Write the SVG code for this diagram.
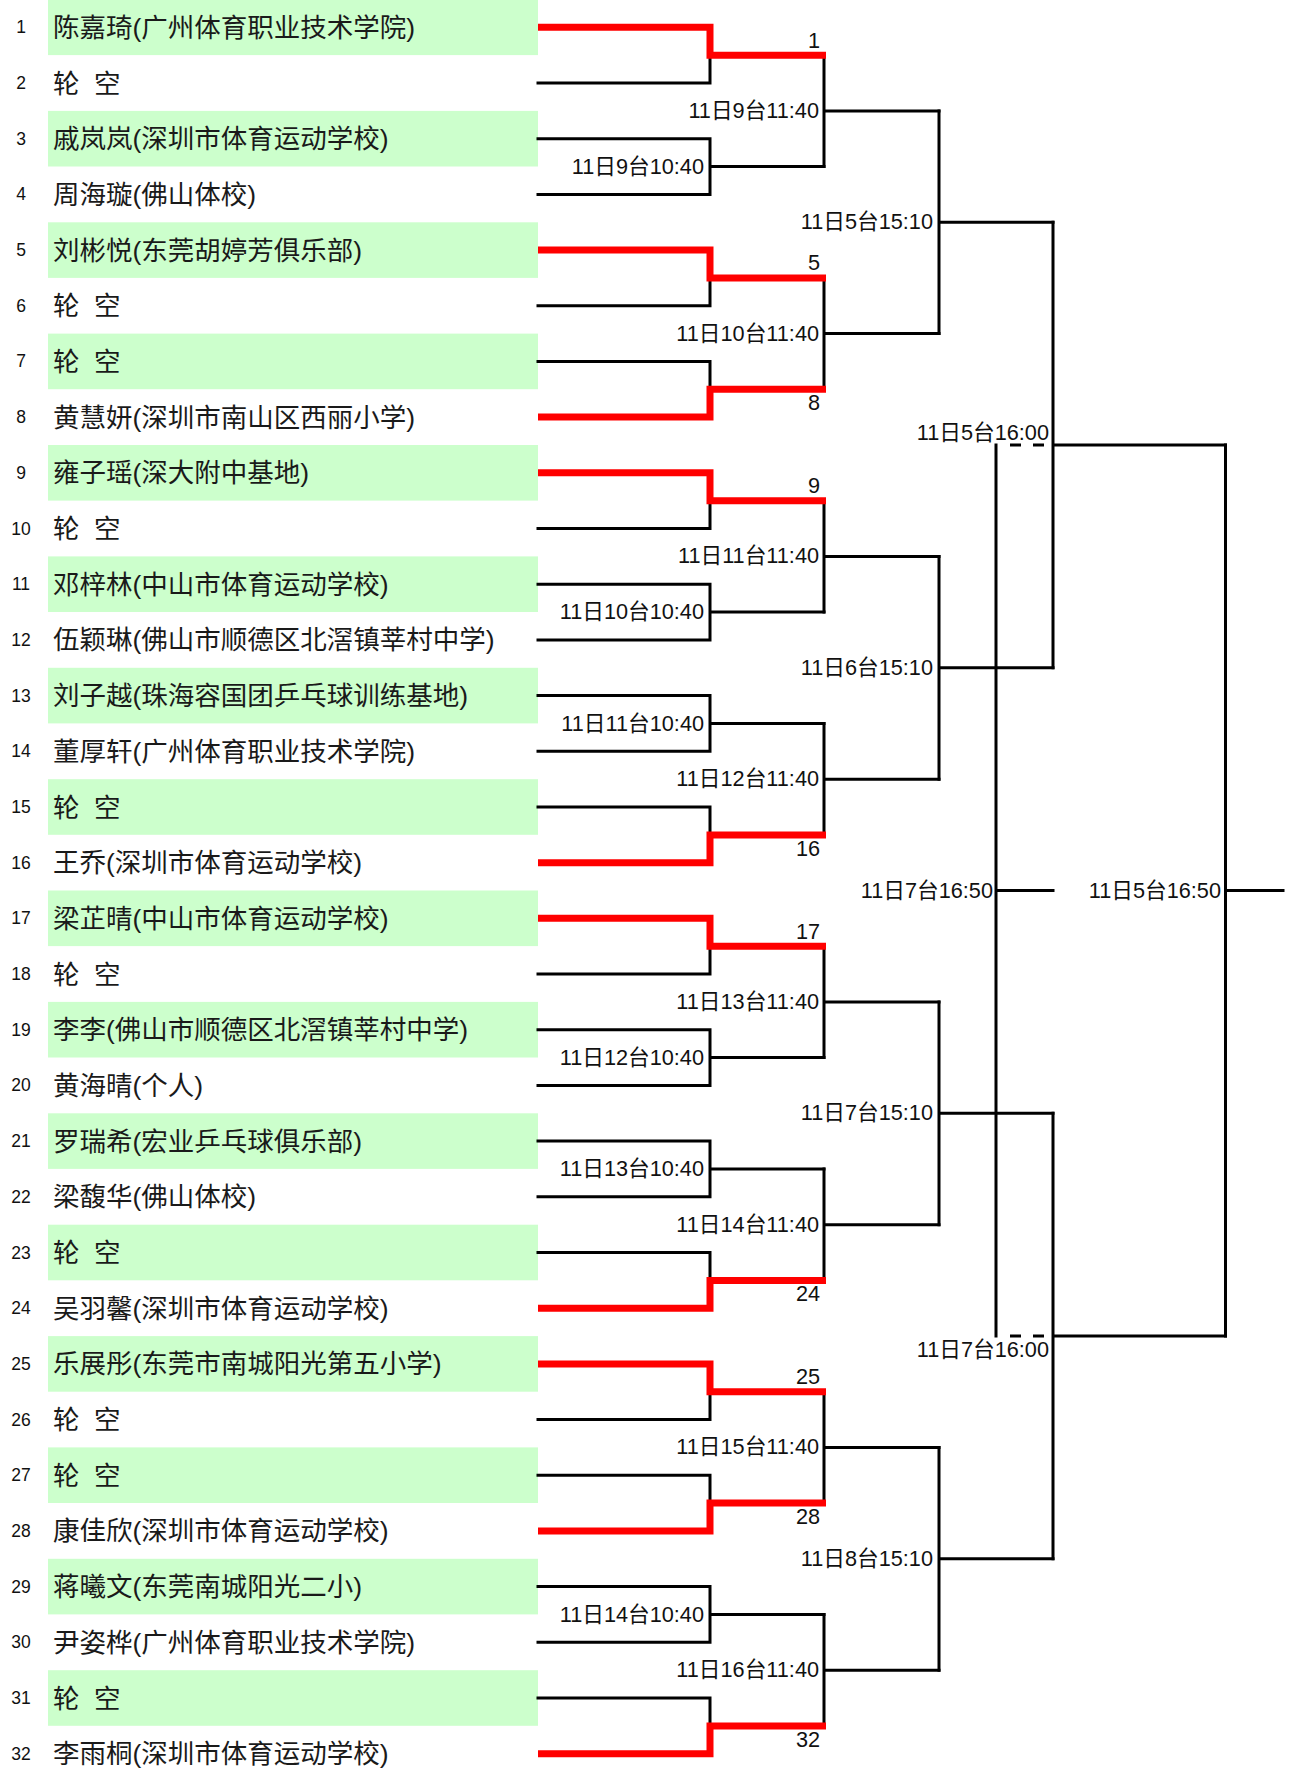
<svg xmlns="http://www.w3.org/2000/svg" width="1290" height="1769" viewBox="0 0 1290 1769">
<style>
.bg{fill:#ffffff}
.g{fill:#ccffcc}
.n{font-family:"Liberation Sans","Noto Sans CJK SC",sans-serif;font-size:17.5px;text-anchor:middle;fill:#111}
.t{font-family:"Liberation Sans","Noto Sans CJK SC",sans-serif;font-size:26.5px;fill:#1a1a1a}
.l{font-family:"Liberation Sans","Noto Sans CJK SC",sans-serif;font-size:21.7px;text-anchor:end;fill:#111}
.k{fill:none;stroke:#000;stroke-width:3;stroke-linecap:square}
.r{fill:none;stroke:#ff0000;stroke-width:7;stroke-linecap:butt}
.d{fill:none;stroke:#000;stroke-width:3;stroke-dasharray:11 12;stroke-dashoffset:11}
</style>
<rect class="bg" x="0" y="0" width="1290" height="1769"/>
<g id="players">
<g id="p1"><rect class="g" x="48" y="-0.5" width="490" height="55.6"/><text class="n" x="21" y="33.3">1</text><text class="t" x="53" y="36.8">陈嘉琦(广州体育职业技术学院)</text></g>
<g id="p2"><text class="n" x="21" y="89">2</text><text class="t" x="53" y="92.5">轮 <tspan x="94">空</tspan></text></g>
<g id="p3"><rect class="g" x="48" y="110.9" width="490" height="55.6"/><text class="n" x="21" y="144.7">3</text><text class="t" x="53" y="148.2">戚岚岚(深圳市体育运动学校)</text></g>
<g id="p4"><text class="n" x="21" y="200.4">4</text><text class="t" x="53" y="203.9">周海璇(佛山体校)</text></g>
<g id="p5"><rect class="g" x="48" y="222.3" width="490" height="55.6"/><text class="n" x="21" y="256.1">5</text><text class="t" x="53" y="259.6">刘彬悦(东莞胡婷芳俱乐部)</text></g>
<g id="p6"><text class="n" x="21" y="311.7">6</text><text class="t" x="53" y="315.2">轮 <tspan x="94">空</tspan></text></g>
<g id="p7"><rect class="g" x="48" y="333.6" width="490" height="55.6"/><text class="n" x="21" y="367.4">7</text><text class="t" x="53" y="370.9">轮 <tspan x="94">空</tspan></text></g>
<g id="p8"><text class="n" x="21" y="423.1">8</text><text class="t" x="53" y="426.6">黄慧妍(深圳市南山区西丽小学)</text></g>
<g id="p9"><rect class="g" x="48" y="445" width="490" height="55.6"/><text class="n" x="21" y="478.8">9</text><text class="t" x="53" y="482.3">雍子瑶(深大附中基地)</text></g>
<g id="p10"><text class="n" x="21" y="534.5">10</text><text class="t" x="53" y="538">轮 <tspan x="94">空</tspan></text></g>
<g id="p11"><rect class="g" x="48" y="556.4" width="490" height="55.6"/><text class="n" x="21" y="590.2">11</text><text class="t" x="53" y="593.7">邓梓林(中山市体育运动学校)</text></g>
<g id="p12"><text class="n" x="21" y="645.9">12</text><text class="t" x="53" y="649.4">伍颖琳(佛山市顺德区北滘镇莘村中学)</text></g>
<g id="p13"><rect class="g" x="48" y="667.8" width="490" height="55.6"/><text class="n" x="21" y="701.6">13</text><text class="t" x="53" y="705.1">刘子越(珠海容国团乒乓球训练基地)</text></g>
<g id="p14"><text class="n" x="21" y="757.3">14</text><text class="t" x="53" y="760.8">董厚轩(广州体育职业技术学院)</text></g>
<g id="p15"><rect class="g" x="48" y="779.2" width="490" height="55.6"/><text class="n" x="21" y="813">15</text><text class="t" x="53" y="816.5">轮 <tspan x="94">空</tspan></text></g>
<g id="p16"><text class="n" x="21" y="868.7">16</text><text class="t" x="53" y="872.2">王乔(深圳市体育运动学校)</text></g>
<g id="p17"><rect class="g" x="48" y="890.5" width="490" height="55.6"/><text class="n" x="21" y="924.3">17</text><text class="t" x="53" y="927.8">梁芷晴(中山市体育运动学校)</text></g>
<g id="p18"><text class="n" x="21" y="980">18</text><text class="t" x="53" y="983.5">轮 <tspan x="94">空</tspan></text></g>
<g id="p19"><rect class="g" x="48" y="1001.9" width="490" height="55.6"/><text class="n" x="21" y="1035.7">19</text><text class="t" x="53" y="1039.2">李李(佛山市顺德区北滘镇莘村中学)</text></g>
<g id="p20"><text class="n" x="21" y="1091.4">20</text><text class="t" x="53" y="1094.9">黄海晴(个人)</text></g>
<g id="p21"><rect class="g" x="48" y="1113.3" width="490" height="55.6"/><text class="n" x="21" y="1147.1">21</text><text class="t" x="53" y="1150.6">罗瑞希(宏业乒乓球俱乐部)</text></g>
<g id="p22"><text class="n" x="21" y="1202.8">22</text><text class="t" x="53" y="1206.3">梁馥华(佛山体校)</text></g>
<g id="p23"><rect class="g" x="48" y="1224.7" width="490" height="55.6"/><text class="n" x="21" y="1258.5">23</text><text class="t" x="53" y="1262">轮 <tspan x="94">空</tspan></text></g>
<g id="p24"><text class="n" x="21" y="1314.2">24</text><text class="t" x="53" y="1317.7">吴羽馨(深圳市体育运动学校)</text></g>
<g id="p25"><rect class="g" x="48" y="1336.1" width="490" height="55.6"/><text class="n" x="21" y="1369.9">25</text><text class="t" x="53" y="1373.4">乐展彤(东莞市南城阳光第五小学)</text></g>
<g id="p26"><text class="n" x="21" y="1425.6">26</text><text class="t" x="53" y="1429.1">轮 <tspan x="94">空</tspan></text></g>
<g id="p27"><rect class="g" x="48" y="1447.4" width="490" height="55.6"/><text class="n" x="21" y="1481.2">27</text><text class="t" x="53" y="1484.7">轮 <tspan x="94">空</tspan></text></g>
<g id="p28"><text class="n" x="21" y="1536.9">28</text><text class="t" x="53" y="1540.4">康佳欣(深圳市体育运动学校)</text></g>
<g id="p29"><rect class="g" x="48" y="1558.8" width="490" height="55.6"/><text class="n" x="21" y="1592.6">29</text><text class="t" x="53" y="1596.1">蒋曦文(东莞南城阳光二小)</text></g>
<g id="p30"><text class="n" x="21" y="1648.3">30</text><text class="t" x="53" y="1651.8">尹姿桦(广州体育职业技术学院)</text></g>
<g id="p31"><rect class="g" x="48" y="1670.2" width="490" height="55.6"/><text class="n" x="21" y="1704">31</text><text class="t" x="53" y="1707.5">轮 <tspan x="94">空</tspan></text></g>
<g id="p32"><text class="n" x="21" y="1759.7">32</text><text class="t" x="53" y="1763.2">李雨桐(深圳市体育运动学校)</text></g>
</g>
<g id="connectors">
<path class="k" d="M538,83 H710 V55.2"/>
<path class="k" d="M538,138.7 H710 V194.4 H538 M710,166.6 H824"/>
<path class="k" d="M538,305.7 H710 V277.9"/>
<path class="k" d="M538,361.4 H710 V389.3"/>
<path class="k" d="M538,528.5 H710 V500.7"/>
<path class="k" d="M538,584.2 H710 V639.9 H538 M710,612.1 H824"/>
<path class="k" d="M538,695.6 H710 V751.3 H538 M710,723.5 H824"/>
<path class="k" d="M538,807 H710 V834.9"/>
<path class="k" d="M538,974 H710 V946.2"/>
<path class="k" d="M538,1029.7 H710 V1085.4 H538 M710,1057.6 H824"/>
<path class="k" d="M538,1141.1 H710 V1196.8 H538 M710,1169 H824"/>
<path class="k" d="M538,1252.5 H710 V1280.4"/>
<path class="k" d="M538,1419.6 H710 V1391.8"/>
<path class="k" d="M538,1475.2 H710 V1503.1"/>
<path class="k" d="M538,1586.6 H710 V1642.3 H538 M710,1614.5 H824"/>
<path class="k" d="M538,1698 H710 V1725.9"/>
<path class="k" d="M824,55.2 V166.6 M824,110.9 H939"/>
<path class="k" d="M824,277.9 V389.3 M824,333.6 H939"/>
<path class="k" d="M824,500.7 V612.1 M824,556.4 H939"/>
<path class="k" d="M824,723.5 V834.9 M824,779.2 H939"/>
<path class="k" d="M824,946.2 V1057.6 M824,1001.9 H939"/>
<path class="k" d="M824,1169 V1280.4 M824,1224.7 H939"/>
<path class="k" d="M824,1391.8 V1503.1 M824,1447.4 H939"/>
<path class="k" d="M824,1614.5 V1725.9 M824,1670.2 H939"/>
<path class="k" d="M939,110.9 V333.6 M939,222.2 H1053"/>
<path class="k" d="M939,556.4 V779.2 M939,667.8 H1053"/>
<path class="k" d="M939,1001.9 V1224.7 M939,1113.3 H1053"/>
<path class="k" d="M939,1447.4 V1670.2 M939,1558.8 H1053"/>
<path class="k" d="M1053,222.2 V667.8 M1053,445 H1225.5"/>
<path class="k" d="M1053,1113.3 V1558.8 M1053,1336 H1225.5"/>
<path class="k" d="M1225.5,445 V1336 M1225.5,890.5 H1283"/>
<path class="k" d="M996,445 V1336 M996,890.5 H1053"/>
<path class="d" d="M998,445 H1053 M998,1336 H1053"/>
<path class="r" d="M538,27.3 H710 V55.2 H826"/>
<path class="r" d="M538,250.1 H710 V277.9 H826"/>
<path class="r" d="M538,417.1 H710 V389.3 H826"/>
<path class="r" d="M538,472.8 H710 V500.7 H826"/>
<path class="r" d="M538,862.7 H710 V834.9 H826"/>
<path class="r" d="M538,918.3 H710 V946.2 H826"/>
<path class="r" d="M538,1308.2 H710 V1280.4 H826"/>
<path class="r" d="M538,1363.9 H710 V1391.8 H826"/>
<path class="r" d="M538,1530.9 H710 V1503.1 H826"/>
<path class="r" d="M538,1753.7 H710 V1725.9 H826"/>
</g>
<g id="labels">
<text class="l" x="820" y="47.7">1</text>
<text class="l" x="704" y="173.6">11日9台10:40</text>
<text class="l" x="820" y="270.4">5</text>
<text class="l" x="820" y="410.3">8</text>
<text class="l" x="820" y="493.2">9</text>
<text class="l" x="704" y="619.1">11日10台10:40</text>
<text class="l" x="704" y="730.5">11日11台10:40</text>
<text class="l" x="820" y="855.9">16</text>
<text class="l" x="820" y="938.7">17</text>
<text class="l" x="704" y="1064.6">11日12台10:40</text>
<text class="l" x="704" y="1176">11日13台10:40</text>
<text class="l" x="820" y="1301.4">24</text>
<text class="l" x="820" y="1384.3">25</text>
<text class="l" x="820" y="1524.1">28</text>
<text class="l" x="704" y="1621.5">11日14台10:40</text>
<text class="l" x="820" y="1746.9">32</text>
<text class="l" x="819" y="117.9">11日9台11:40</text>
<text class="l" x="819" y="340.6">11日10台11:40</text>
<text class="l" x="819" y="563.4">11日11台11:40</text>
<text class="l" x="819" y="786.2">11日12台11:40</text>
<text class="l" x="819" y="1008.9">11日13台11:40</text>
<text class="l" x="819" y="1231.7">11日14台11:40</text>
<text class="l" x="819" y="1454.4">11日15台11:40</text>
<text class="l" x="819" y="1677.2">11日16台11:40</text>
<text class="l" x="933" y="229.2">11日5台15:10</text>
<text class="l" x="933" y="674.8">11日6台15:10</text>
<text class="l" x="933" y="1120.3">11日7台15:10</text>
<text class="l" x="933" y="1565.8">11日8台15:10</text>
<text class="l" x="1049" y="439.5">11日5台16:00</text>
<text class="l" x="1049" y="1357">11日7台16:00</text>
<text class="l" x="993" y="897.5">11日7台16:50</text>
<text class="l" x="1221" y="897.5">11日5台16:50</text>
</g>
</svg>
